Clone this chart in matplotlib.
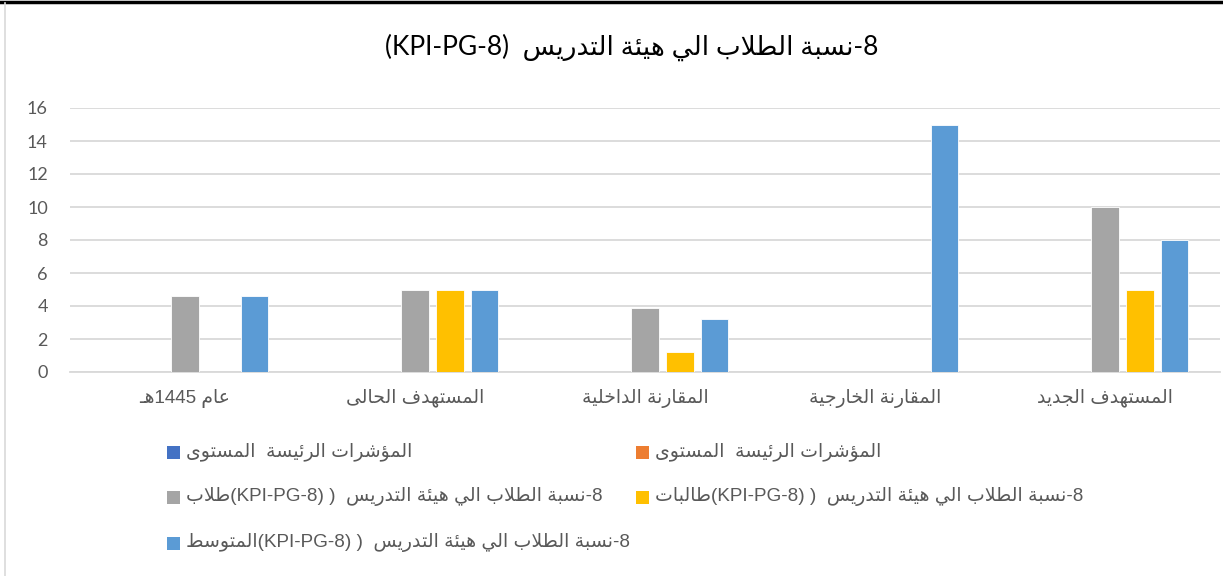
import re
import numpy as np
import matplotlib
matplotlib.use("Agg")
import matplotlib.pyplot as plt
from matplotlib.patches import Rectangle
from matplotlib.lines import Line2D

# ---------------- data ----------------
title = "8-نسبة الطلاب الي هيئة التدريس  (KPI-PG-8)"
categories = ["عام 1445هـ", "المستهدف الحالى", "المقارنة الداخلية", "المقارنة الخارجية", "المستهدف الجديد"]
series_names = [
    "المؤشرات الرئيسة  المستوى",
    "المؤشرات الرئيسة  المستوى",
    "8-نسبة الطلاب الي هيئة التدريس  ( (KPI-PG-8)طلاب",
    "8-نسبة الطلاب الي هيئة التدريس  ( (KPI-PG-8)طالبات",
    "8-نسبة الطلاب الي هيئة التدريس  ( (KPI-PG-8)المتوسط",
]
s_level1 = [np.nan, np.nan, np.nan, np.nan, np.nan]
s_level2 = [np.nan, np.nan, np.nan, np.nan, np.nan]
s_male = [4.6, 5.0, 3.9, np.nan, 10.0]
s_female = [np.nan, 5.0, 1.2, np.nan, 5.0]
s_avg = [4.6, 5.0, 3.2, 15.0, 8.0]
series_values = [s_level1, s_level2, s_male, s_female, s_avg]
series_colors = ["#4472C4", "#ED7D31", "#A5A5A5", "#FFC000", "#5B9BD5"]
yticks = [0, 2, 4, 6, 8, 10, 12, 14, 16]

# ---------------- minimal Arabic shaping + RTL ordering ----------------
_BASE4 = {
    '\u0626': 0xFE89, '\u0628': 0xFE8F, '\u062A': 0xFE95, '\u062B': 0xFE99,
    '\u062C': 0xFE9D, '\u062D': 0xFEA1, '\u062E': 0xFEA5, '\u0633': 0xFEB1,
    '\u0634': 0xFEB5, '\u0635': 0xFEB9, '\u0636': 0xFEBD, '\u0637': 0xFEC1,
    '\u0638': 0xFEC5, '\u0639': 0xFEC9, '\u063A': 0xFECD, '\u0641': 0xFED1,
    '\u0642': 0xFED5, '\u0643': 0xFED9, '\u0644': 0xFEDD, '\u0645': 0xFEE1,
    '\u0646': 0xFEE5, '\u0647': 0xFEE9, '\u064A': 0xFEF1,
}
_BASE2 = {
    '\u0622': 0xFE81, '\u0623': 0xFE83, '\u0624': 0xFE85, '\u0625': 0xFE87,
    '\u0627': 0xFE8D, '\u0629': 0xFE93, '\u062F': 0xFEA9, '\u0630': 0xFEAB,
    '\u0631': 0xFEAD, '\u0632': 0xFEAF, '\u0648': 0xFEED, '\u0649': 0xFEEF,
}
_FORMS = {c: (b, b + 1, b + 2, b + 3) for c, b in _BASE4.items()}
_FORMS.update({c: (b, b + 1) for c, b in _BASE2.items()})
_FORMS['\u0621'] = (0xFE80,)
_LAMALEF = {'\u0627': (0xFEFB, 0xFEFC), '\u0623': (0xFEF7, 0xFEF8),
            '\u0625': (0xFEF9, 0xFEFA), '\u0622': (0xFEF5, 0xFEF6)}
TATWEEL = '\u0640'


def _joins_next(c):
    return c == TATWEEL or (c in _FORMS and len(_FORMS[c]) == 4)


def _joinable(c):
    return c == TATWEEL or (c in _FORMS and len(_FORMS[c]) >= 2)


def _shape(s):
    res = []
    n = len(s)
    i = 0
    while i < n:
        c = s[i]
        link_prev = i > 0 and _joins_next(s[i - 1]) and _joinable(c)
        if c == '\u0644' and i + 1 < n and s[i + 1] in _LAMALEF:
            iso, fin = _LAMALEF[s[i + 1]]
            res.append(chr(fin if link_prev else iso))
            i += 2
            continue
        if c not in _FORMS:
            res.append(c)
            i += 1
            continue
        f = _FORMS[c]
        nxt = s[i + 1] if i + 1 < n else ''
        link_next = len(f) == 4 and nxt != '' and _joinable(nxt)
        if len(f) == 1:
            code = f[0]
        elif len(f) == 2:
            code = f[1] if link_prev else f[0]
        else:
            if link_prev and link_next:
                code = f[3]
            elif link_prev:
                code = f[1]
            elif link_next:
                code = f[2]
            else:
                code = f[0]
        res.append(chr(code))
        i += 1
    return ''.join(res)


_MIRROR = {'(': ')', ')': '('}


def ar(s):
    shaped = _shape(s)
    runs = re.split(r'([A-Za-z0-9]+(?:-[A-Za-z0-9]+)*)', shaped)
    out = []
    for k, r in enumerate(runs):
        if k % 2 == 1:
            out.append(r)
        else:
            out.append(''.join(_MIRROR.get(ch, ch) for ch in reversed(r)))
    return ''.join(reversed(out))


# ---------------- figure ----------------
W, H = 1223, 576
fig = plt.figure(figsize=(W / 100, H / 100), dpi=100)
fig.patch.set_facecolor("white")

FONT_LAT = ["Lato", "DejaVu Sans"]
FONT_AR = ["Liberation Sans", "DejaVu Sans"]

ax = fig.add_axes([70 / W, 1 - 372 / H, (1220 - 70) / W, (372 - 108) / H])
x = np.arange(len(categories))
step = 0.152
width = 0.118
nser = len(series_values)
for j, (vals, col) in enumerate(zip(series_values, series_colors)):
    ax.bar(x + (j - (nser - 1) / 2) * step, vals, width=width, color=col,
           edgecolor="white", linewidth=0.6, zorder=3)

ax.set_xlim(-0.5, len(categories) - 0.5)
ax.set_ylim(0, 16)
ax.set_yticks(yticks)
ax.set_yticklabels([str(v) for v in yticks], family=FONT_LAT, fontsize=13, color="#595959")
ax.set_xticks(x)
ax.set_xticklabels([ar(c) for c in categories], family=FONT_AR, fontsize=13.5, color="#595959")
ax.tick_params(axis="both", length=0)
ax.tick_params(axis="y", pad=16)
ax.tick_params(axis="x", pad=12)
ax.yaxis.grid(True, color="#D9D9D9", linewidth=1.3, zorder=0)
ax.set_axisbelow(True)
for sp in ["top", "right", "left"]:
    ax.spines[sp].set_visible(False)
ax.spines["bottom"].set_color("#D9D9D9")
ax.spines["bottom"].set_linewidth(1.3)

# title
fig.text(632 / W, 1 - 47 / H, ar(title), ha="center", va="center",
         family=FONT_LAT, fontsize=19, color="#000000")

# legend (manual, 2 columns, row-major)
col_x = [167, 636]
row_y = [452, 497, 543]
msize = 13
for j, (name, col) in enumerate(zip(series_names, series_colors)):
    r, c = divmod(j, 2)
    mx, my = col_x[c], row_y[r]
    fig.patches.append(Rectangle((mx / W, 1 - (my + msize / 2) / H), msize / W, msize / H,
                                 transform=fig.transFigure, facecolor=col, edgecolor="none"))
    fig.text((mx + msize + 6) / W, 1 - my / H, ar(name), ha="left", va="center",
             family=FONT_AR, fontsize=13.6, color="#595959")

# chart frame lines
fig.add_artist(Line2D([0, 1], [1 - 1.5 / H, 1 - 1.5 / H], transform=fig.transFigure,
                      color="black", linewidth=2.5))
fig.add_artist(Line2D([5 / W, 5 / W], [0, 1 - 3 / H], transform=fig.transFigure,
                      color="#D9D9D9", linewidth=1.2))

fig.savefig("out.png", dpi=100, facecolor="white")
